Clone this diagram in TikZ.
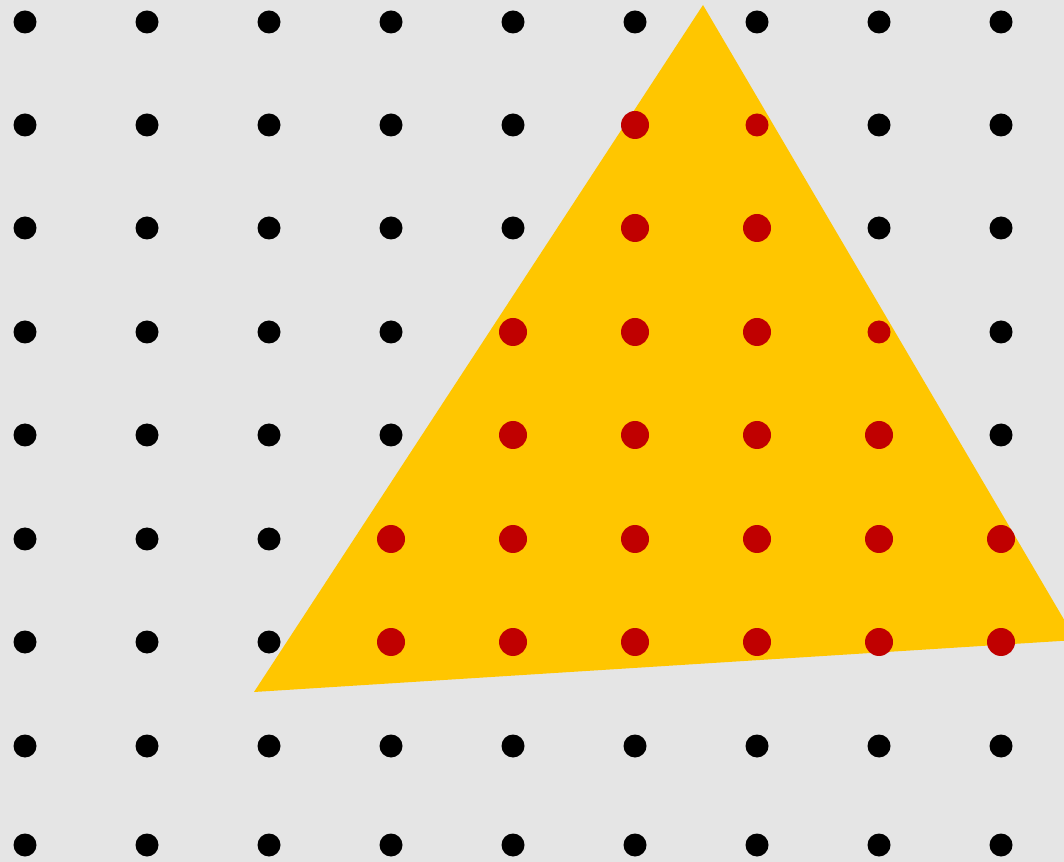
\documentclass[tikz,border=0pt]{standalone}
\usepackage[dvipsnames]{xcolor}
\usepackage{tikz}

\definecolor{bggray}{RGB}{229,229,229}
\definecolor{triyellow}{RGB}{255,198,0}
\definecolor{dotred}{RGB}{192,0,0}

\begin{document}
\begin{tikzpicture}[x=0.75pt,y=0.75pt,yscale=-1,xscale=1,
  griddot/.style={circle,fill=black,inner sep=0pt,minimum size=17.25pt},
  bigred/.style={circle,fill=dotred,inner sep=0pt,minimum size=21pt},
  smallred/.style={circle,fill=dotred,inner sep=0pt,minimum size=17.25pt}]
%Background
\fill [color=bggray] (0,0) rectangle (1064,862);
\useasboundingbox (0,0) rectangle (1064,862);
\clip (0,0) rectangle (1064,862);

%Grid of dots
\foreach \y [count=\j] in {22,125,228,332,435,539,642,746,845}
  \foreach \x [count=\i] in {25,147,269,391,513,635,757,879,1001}
    \node [griddot] (d-\i-\j) at (\x,\y) {};

%Triangle
\coordinate (top) at (703,5);
\coordinate (left) at (254,692);
\coordinate (right) at (1076,640);
\fill [color=triyellow] (top) -- (left) -- (right) -- cycle;

%Red dots inside
\node [bigred] (r-6-2) at (d-6-2) {};
\node [smallred] (r-7-2) at (d-7-2) {};
\foreach \i in {6,7} \node [bigred] (r-\i-3) at (d-\i-3) {};
\foreach \i in {5,6,7} \node [bigred] (r-\i-4) at (d-\i-4) {};
\node [smallred] (r-8-4) at (d-8-4) {};
\foreach \i in {5,...,8} \node [bigred] (r-\i-5) at (d-\i-5) {};
\foreach \i in {4,...,9} \node [bigred] (r-\i-6) at (d-\i-6) {};
\foreach \i in {4,...,9} \node [bigred] (r-\i-7) at (d-\i-7) {};

\end{tikzpicture}
\end{document}
